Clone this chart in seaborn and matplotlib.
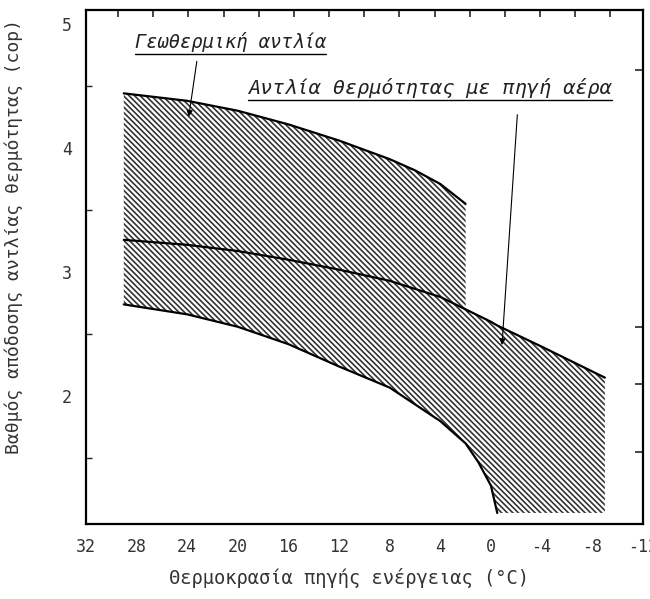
import numpy as np
import matplotlib.pyplot as plt
import seaborn as sns

sns.set_style("white")
plt.rcParams['font.family'] = ['DejaVu Sans Mono', 'DejaVu Sans']
plt.rcParams['hatch.linewidth'] = 1.2

# Geothermal heat pump band: source temperature (°C) vs COP
geo_temp = [29, 24, 20, 16, 12, 8, 6, 4, 2]
geo_upper = [4.44, 4.38, 4.30, 4.19, 4.06, 3.91, 3.82, 3.71, 3.55]
geo_lower = [3.26, 3.22, 3.17, 3.10, 3.02, 2.93, 2.87, 2.80, 2.70]

# Air-source heat pump band
air_temp = [29, 24, 20, 16, 12, 8, 4, 2, 1, 0, -0.5, -4, -9]
air_upper = [3.26, 3.22, 3.17, 3.10, 3.02, 2.93, 2.80, 2.70, 2.65, 2.60, 2.57, 2.40, 2.15]
air_lower = [2.74, 2.66, 2.56, 2.42, 2.24, 2.07, 1.80, 1.62, 1.47, 1.28, 1.06, 1.06, 1.06]

x_ticks = [32, 28, 24, 20, 16, 12, 8, 4, 0, -4, -8, -12]
x_labels = ['32', '28', '24', '20', '16', '12', '8', '4', '0', '-4', '-8', '-12']
y_ticks = [2, 3, 4, 5]
y_minor = [1.5, 2.5, 3.5, 4.5]
right_ticks = [1.55, 2.10, 2.56, 4.63]

geo_label = 'Γεωθερμική αντλία'
air_label = 'Αντλία θερμότητας με πηγή αέρα'

fig = plt.figure(figsize=(6.5, 5.99), dpi=100)
ax = fig.add_axes([0.132, 0.125, 0.857, 0.858])

hatch_col = '#333333'
ax.fill_between(geo_temp, geo_lower, geo_upper, facecolor='none',
                edgecolor=hatch_col, hatch='\\' * 6, linewidth=0)
ax.fill_between(air_temp, air_lower, air_upper, facecolor='none',
                edgecolor=hatch_col, hatch='\\' * 6, linewidth=0)

n_curve = air_lower.index(1.06) + 1
sns.lineplot(x=geo_temp, y=geo_upper, color='black', lw=1.6, ax=ax)
sns.lineplot(x=air_temp, y=air_upper, color='black', lw=1.6, ax=ax)
sns.lineplot(x=air_temp[:n_curve], y=air_lower[:n_curve], color='black', lw=1.6, ax=ax)

ax.set_xlim(32, -12)
ax.set_ylim(0.97, 5.11)
ax.set_xticks(x_ticks)
ax.set_xticklabels(x_labels)
ax.set_yticks(y_ticks)
ax.set_yticks(y_minor, minor=True)
ax.tick_params(axis='both', which='major', direction='in', length=7, width=1.2,
               labelsize=12, labelcolor='#333333', pad=10)
ax.tick_params(axis='y', which='minor', direction='in', length=4, width=1.0, left=True)
ax.tick_params(axis='x', which='major', length=4)
for s in ax.spines.values():
    s.set_linewidth(1.6)
    s.set_color('black')

# top axis: unlabeled Fahrenheit ticks
top = ax.secondary_xaxis('top', functions=(lambda c: c * 9 / 5 + 32, lambda f: (f - 32) * 5 / 9))
top.set_xticks(np.arange(15, 90, 5))
top.tick_params(direction='in', length=5, width=1.2, labeltop=False)
top.spines['top'].set_visible(False)

# right axis: unlabeled ticks
right = ax.secondary_yaxis('right')
right.set_yticks(right_ticks)
right.tick_params(direction='in', length=6, width=1.2, labelright=False)
right.spines['right'].set_visible(False)

ax.set_xlabel('Θερμοκρασία πηγής ενέργειας (°C)', fontsize=13.5, color='#333333')
ax.set_ylabel('Βαθμός απόδοσης αντλίας θερμότητας (cop)', fontsize=13, color='#333333')
ax.xaxis.set_label_coords(0.472, -0.085)
ax.yaxis.set_label_coords(-0.113, 0.56)

t1 = ax.text(28.1, 4.85, geo_label, fontsize=13.5, style='italic', color='#222222', va='center')
t2 = ax.text(19.2, 4.48, air_label, fontsize=14.5, style='italic', color='#222222', va='center')

ax.annotate('', xy=(23.9, 4.23), xytext=(23.2, 4.72),
            arrowprops=dict(arrowstyle='-|>', color='black', lw=0.8, mutation_scale=9))
ax.annotate('', xy=(-0.86, 2.39), xytext=(-2.1, 4.29),
            arrowprops=dict(arrowstyle='-|>', color='black', lw=0.8, mutation_scale=9))

# underline the two labels
fig.canvas.draw()
inv = ax.transData.inverted()
for t in (t1, t2):
    bb = t.get_window_extent()
    (x0, y0), (x1, _) = inv.transform([[bb.x0, bb.y0 - 2], [bb.x1, bb.y0 - 2]])
    ax.plot([x0, x1], [y0, y0], color='black', lw=1.0)

fig.savefig('out.png', dpi=100)
